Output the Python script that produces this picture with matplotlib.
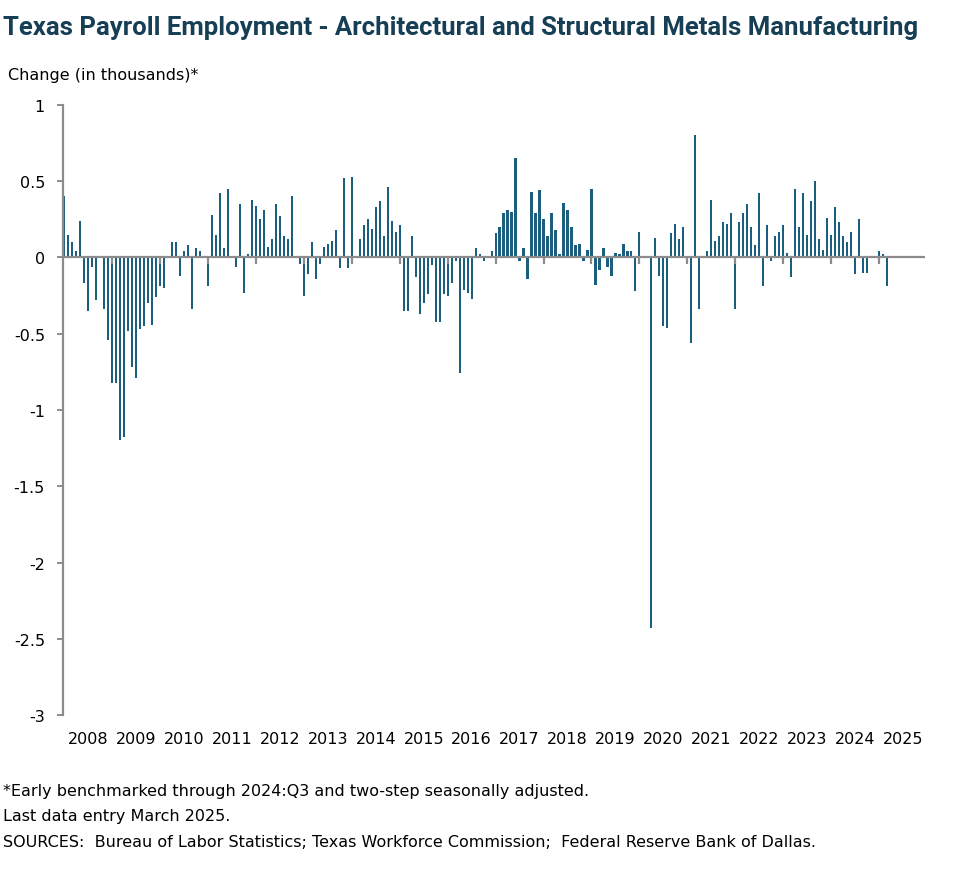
import numpy as np
import pandas as pd
import matplotlib
matplotlib.use("Agg")
import matplotlib.pyplot as plt
import matplotlib.transforms as mtransforms

# monthly change, thousands, Jan 2008 - Mar 2025
y2008 = [0.40, 0.15, 0.10, 0.04, 0.24, -0.17, -0.35, -0.06, -0.28, 0.00, -0.34, -0.54]
y2009 = [-0.82, -0.82, -1.20, -1.18, -0.48, -0.72, -0.79, -0.47, -0.45, -0.30, -0.44, -0.26]
y2010 = [-0.19, -0.20, 0.00, 0.10, 0.10, -0.12, 0.04, 0.08, -0.34, 0.06, 0.04, 0.00]
y2011 = [-0.19, 0.28, 0.15, 0.42, 0.06, 0.45, 0.00, -0.06, 0.35, -0.23, 0.02, 0.38]
y2012 = [0.34, 0.25, 0.31, 0.07, 0.12, 0.35, 0.27, 0.14, 0.12, 0.40, 0.01, -0.04]
y2013 = [-0.25, -0.11, 0.10, -0.14, -0.04, 0.07, 0.09, 0.11, 0.18, -0.07, 0.52, -0.07]
y2014 = [0.53, 0.01, 0.12, 0.21, 0.25, 0.19, 0.33, 0.37, 0.14, 0.46, 0.24, 0.17]
y2015 = [0.21, -0.35, -0.35, 0.14, -0.13, -0.37, -0.30, -0.24, -0.05, -0.42, -0.42, -0.24]
y2016 = [-0.25, -0.17, -0.02, -0.76, -0.21, -0.23, -0.27, 0.06, 0.02, -0.02, 0.00, 0.04]
y2017 = [0.16, 0.20, 0.29, 0.31, 0.30, 0.65, -0.02, 0.06, -0.14, 0.43, 0.29, 0.44]
y2018 = [0.25, 0.14, 0.29, 0.18, 0.02, 0.36, 0.31, 0.20, 0.08, 0.09, -0.02, 0.05]
y2019 = [0.45, -0.18, -0.08, 0.06, -0.06, -0.12, 0.03, 0.02, 0.09, 0.04, 0.04, -0.22]
y2020 = [0.17, 0.00, 0.01, -2.43, 0.13, -0.12, -0.45, -0.46, 0.16, 0.22, 0.12, 0.20]
y2021 = [0.00, -0.56, 0.80, -0.34, 0.01, 0.04, 0.38, 0.11, 0.14, 0.23, 0.22, 0.29]
y2022 = [-0.34, 0.23, 0.29, 0.35, 0.20, 0.08, 0.42, -0.19, 0.21, -0.02, 0.14, 0.17]
y2023 = [0.21, 0.03, -0.13, 0.45, 0.20, 0.42, 0.15, 0.37, 0.50, 0.12, 0.05, 0.26]
y2024 = [0.15, 0.33, 0.23, 0.14, 0.10, 0.17, -0.11, 0.25, -0.10, -0.10, 0.00, 0.00]
y2025 = [0.04, 0.02, -0.19]

years = list(range(2008, 2026))
yticks = [1, 0.5, 0, -0.5, -1, -1.5, -2, -2.5, -3]
ytick_labels = ["1", "0.5", "0", "-0.5", "-1", "-1.5", "-2", "-2.5", "-3"]

values = (y2008 + y2009 + y2010 + y2011 + y2012 + y2013 + y2014 + y2015 + y2016
          + y2017 + y2018 + y2019 + y2020 + y2021 + y2022 + y2023 + y2024 + y2025)
months = pd.date_range("2008-01-01", periods=len(values), freq="MS")
x = (months.year - 2008) * 12 + (months.month - 1)

bar_col = "#1b5e7e"
grey = "#8c8c8c"

fig = plt.figure(figsize=(9.79, 8.78), dpi=100)
ax = fig.add_axes([0.0644, 0.1845, 0.8804, 0.6948])

ax.bar(x, values, width=0.55, color=bar_col, zorder=2)
ax.axhline(0, color=grey, lw=1.6, zorder=3)

ax.set_xlim(-0.3, 215.5)
ax.set_ylim(-3, 1)

# year boundary ticks hanging from the zero line
for k in range(1, len(years)):
    ax.plot([12 * k, 12 * k], [0, -0.045], color=grey, lw=1.6, zorder=3,
            solid_capstyle="butt")

trans = mtransforms.blended_transform_factory(ax.transData, ax.transAxes)
for k, yr in enumerate(years):
    ax.text(12 * k + 6, -0.038, str(yr), transform=trans, ha="center", va="center",
            fontsize=11.5)

ax.set_xticks([])
ax.set_yticks(yticks)
ax.set_yticklabels(ytick_labels, fontsize=11.5)
ax.tick_params(axis="y", direction="out", length=4, width=1.4, color=grey, pad=9)
for lab in ax.get_yticklabels():
    lab.set_horizontalalignment("right")

for s in ["top", "right", "bottom"]:
    ax.spines[s].set_visible(False)
ax.spines["left"].set_color(grey)
ax.spines["left"].set_linewidth(1.6)

fig.text(0.003, 0.968, "Texas Payroll Employment - Architectural and Structural Metals Manufacturing",
         fontsize=18.5, fontweight="bold", color="#163f55", ha="left", va="center",
         family=["Liberation Sans Narrow", "Roboto", "DejaVu Sans"])
fig.text(0.008, 0.914, "Change (in thousands)*", fontsize=11.5, ha="left", va="center")

fig.text(0.003, 0.098, "*Early benchmarked through 2024:Q3 and two-step seasonally adjusted.",
         fontsize=11.5, ha="left", va="center")
fig.text(0.003, 0.070, "Last data entry March 2025.", fontsize=11.5, ha="left", va="center")
fig.text(0.003, 0.041, "SOURCES:  Bureau of Labor Statistics; Texas Workforce Commission;  Federal Reserve Bank of Dallas.",
         fontsize=11.5, ha="left", va="center")

fig.savefig("out.png", dpi=100)
